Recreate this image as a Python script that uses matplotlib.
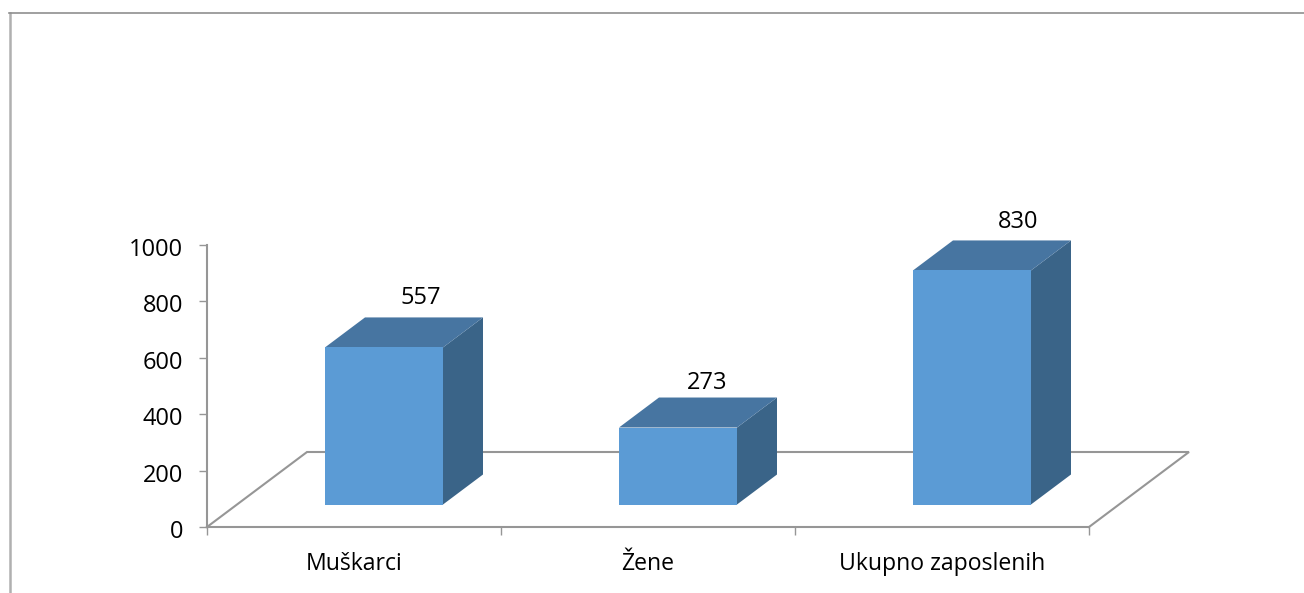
import matplotlib
matplotlib.use('Agg')
import matplotlib.pyplot as plt
from matplotlib.lines import Line2D
from matplotlib.patches import Polygon
from matplotlib.transforms import ScaledTranslation

categories = ['Muškarci', 'Žene', 'Ukupno zaposlenih']
values = [557, 273, 830]
y_ticks = [0, 200, 400, 600, 800, 1000]

W, H = 1304, 593
# oblique depth of the floor, in data units
DEPTH_X = 100 / 294
DEPTH_Y = 75 / 0.282
BAR_WIDTH = 118 / 294
BAR_SHIFT = 30 / 294

FRONT = '#5b9bd5'
TOP = '#4775a1'
SIDE = '#3a6488'
GREY = '#969696'

# hand placed value labels, pixels from the bar's back top corner
LABEL_OFFSETS = [(-62, 19), (-70, 15), (-53, 18)]

plt.rcParams['font.family'] = ['Open Sans', 'DejaVu Sans']

fig = plt.figure(figsize=(W / 100, H / 100), dpi=100)
ax = fig.add_axes([207 / W, 1 - 527 / H, (1089 - 207) / W, (527 - 245) / H])
ax.set_xlim(0, len(categories))
ax.set_ylim(0, 1000)
ax.patch.set_visible(False)
for name in ['top', 'right']:
    ax.spines[name].set_visible(False)
for name in ['left', 'bottom']:
    ax.spines[name].set_color(GREY)
    ax.spines[name].set_linewidth(1.5)

ax.set_yticks(y_ticks)
ax.set_xticks(range(len(categories) + 1))
ax.set_xticklabels([])
ax.tick_params(axis='both', length=6, width=1, color=GREY, labelsize=17)
ax.tick_params(axis='y', pad=11)
# labels sit a bit under their ticks
shift = ScaledTranslation(0, -2 / 100, fig.dpi_scale_trans)
for label in ax.get_yticklabels():
    label.set_transform(label.get_transform() + shift)

# floor
n = len(categories)
ax.plot([0, DEPTH_X, n + DEPTH_X, n], [0, DEPTH_Y, DEPTH_Y, 0],
        color=GREY, lw=1.5, clip_on=False, zorder=1, solid_joinstyle='miter')

for i, (cat, val) in enumerate(zip(categories, values)):
    x0 = i + 0.5 - BAR_WIDTH / 2 + BAR_SHIFT
    x1 = x0 + BAR_WIDTH
    y0 = 0.3 * DEPTH_Y
    y1 = y0 + val
    dx = 0.4 * DEPTH_X
    dy = 0.4 * DEPTH_Y
    ax.add_patch(Polygon([(x1, y0), (x1 + dx, y0 + dy), (x1 + dx, y1 + dy), (x1, y1)],
                         fc=SIDE, ec='none', clip_on=False, zorder=3))
    ax.add_patch(Polygon([(x0, y1), (x0 + dx, y1 + dy), (x1 + dx, y1 + dy), (x1, y1)],
                         fc=TOP, ec='none', clip_on=False, zorder=3))
    ax.add_patch(Polygon([(x0, y0), (x1, y0), (x1, y1), (x0, y1)],
                         fc=FRONT, ec='none', clip_on=False, zorder=4))
    off = LABEL_OFFSETS[i]
    ax.annotate(str(val), (x1 + dx, y1 + dy), xytext=(off[0] * 0.72, off[1] * 0.72),
                textcoords='offset points', ha='center', va='center',
                fontsize=17, annotation_clip=False, zorder=5)
    ax.text(i + 0.5, -132, cat, ha='center', va='center', fontsize=16.6, clip_on=False)

# outer chart frame, left and top only
fig.add_artist(Line2D([10 / W, 10 / W], [0, 1 - 13 / H], color='#b0b0b0', lw=1.8))
fig.add_artist(Line2D([9 / W, 1], [1 - 13 / H, 1 - 13 / H], color='#8f8f8f', lw=1.2))

fig.savefig('out.png', dpi=100, facecolor='white')
